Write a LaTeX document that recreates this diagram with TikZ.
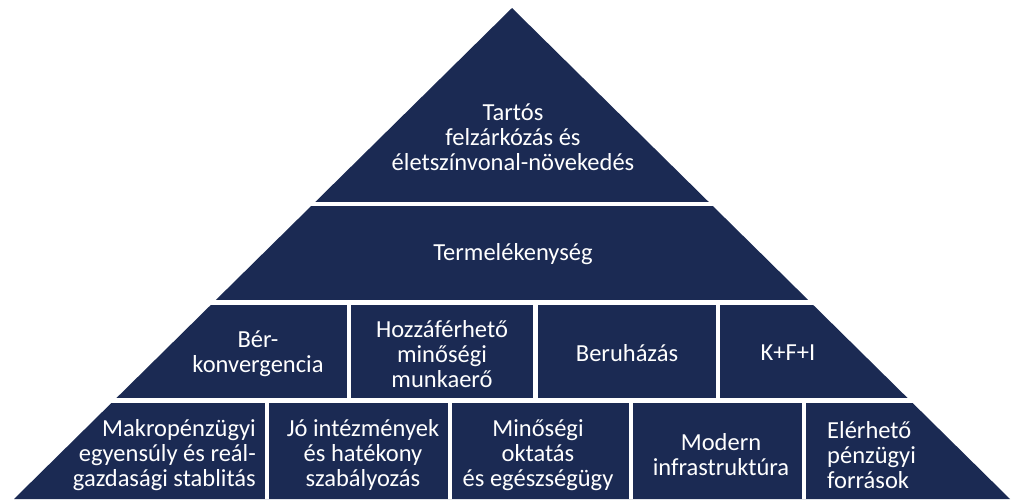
\documentclass[tikz,border=0pt]{standalone}
\usepackage{fontspec}
\setmainfont{Carlito}
\definecolor{navy}{HTML}{1B2A53}

\begin{document}
\begin{tikzpicture}
  [
    x = 1pt, y = -1pt,
    tier/.style = {fill = navy},
    gap/.style = {draw = white, line width = 4.5pt},
    lbl/.style = {text = white, align = center, inner sep = 0pt,
        font = \fontsize{24.5}{25}\selectfont},
  ]

  \useasboundingbox (0,0) rectangle (1011,499);

  % pyramid, cut at the bottom
  \fill[tier] (512,8) -- (14,499) -- (1010,499) -- cycle;

  % horizontal gaps
  \foreach \y in {204, 302.5, 400.5}{
      \draw[gap] (0,\y) -- (1011,\y);
    }
  % dividers of the third row
  \foreach \x in {349, 535.5, 718}{
      \draw[gap] (\x,302.5) -- (\x,400.5);
    }
  % dividers of the bottom row
  \foreach \x in {267, 450, 631, 804}{
      \draw[gap] (\x,400.5) -- (\x,499);
    }

  \node[lbl] (top) at (513,137) {Tartós\\felzárkózás és\\életszínvonal-növekedés};
  \node[lbl] (prod) at (513,254) {Termelékenység};

  \node[lbl] (ber) at (258,354) {Bér-\\konvergencia};
  \node[lbl] (munka) at (442,354) {Hozzáférhető\\minőségi\\munkaerő};
  \node[lbl] (beruh) at (627,353) {Beruházás};
  \node[lbl] (kfi) at (788,353) {K+F+I};

  \node[lbl, align = right, anchor = east] (makro) at (256,455)
    {Makropénzügyi\\egyensúly és reál-\\gazdasági stablitás};
  \node[lbl] (jo) at (363,455) {Jó intézmények\\és hatékony\\szabályozás};
  \node[lbl] (okt) at (538,455) {Minőségi\\oktatás\\és egészségügy};
  \node[lbl] (infra) at (721,455) {Modern\\infrastruktúra};
  \node[lbl, align = left, anchor = west] (eler) at (827,455)
    {Elérhető\\pénzügyi\\források};

\end{tikzpicture}
\end{document}
